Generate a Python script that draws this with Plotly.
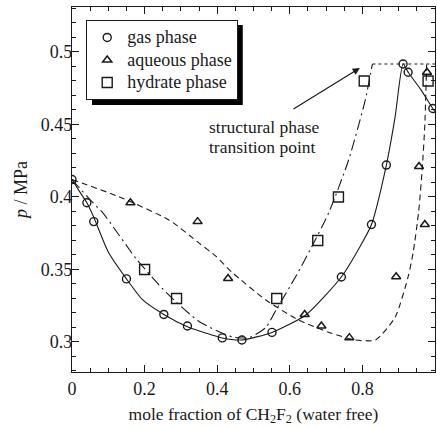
import plotly.graph_objects as go

# ---- data ----
gas_x = [0.0, 0.041, 0.06, 0.15, 0.253, 0.318, 0.414, 0.468, 0.551, 0.742, 0.825, 0.866, 0.912, 0.926, 0.994]
gas_y = [0.412, 0.396, 0.383, 0.3435, 0.319, 0.311, 0.3028, 0.3014, 0.3066, 0.3448, 0.381, 0.422, 0.4917, 0.486, 0.461]

aq_x = [0.161, 0.346, 0.43, 0.641, 0.687, 0.764, 0.893, 0.956, 0.972, 0.978]
aq_y = [0.396, 0.383, 0.3438, 0.319, 0.311, 0.303, 0.345, 0.421, 0.381, 0.486]

hyd_x = [0.2, 0.288, 0.564, 0.677, 0.734, 0.805, 0.981]
hyd_y = [0.35, 0.33, 0.33, 0.37, 0.4, 0.48, 0.48]

# fitted curves
gas_fit_x = [0.0, 0.02, 0.041, 0.06, 0.1, 0.15, 0.195, 0.253, 0.318, 0.351, 0.414, 0.468, 0.551, 0.644,
             0.742, 0.794, 0.825, 0.866, 0.89, 0.912, 0.926, 0.961, 0.994, 1.0]
gas_fit_y = [0.412, 0.404, 0.396, 0.386, 0.362, 0.3435, 0.329, 0.319, 0.3105, 0.3076, 0.3028, 0.3014, 0.3066, 0.3186,
             0.3448, 0.366, 0.381, 0.422, 0.455, 0.4917, 0.486, 0.474, 0.461, 0.459]

aq_fit_x = [0.0, 0.131, 0.268, 0.351, 0.397, 0.441, 0.534, 0.625, 0.715, 0.78, 0.836, 0.89, 0.926,
            0.94, 0.955, 0.965, 0.972, 0.977]
aq_fit_y = [0.412, 0.4, 0.384, 0.368, 0.359, 0.348, 0.329, 0.315, 0.306, 0.3014, 0.3014, 0.317, 0.345,
            0.362, 0.39, 0.42, 0.45, 0.4917]

hyd_fit_x = [0.0, 0.05, 0.085, 0.178, 0.26, 0.351, 0.441, 0.488, 0.534, 0.562, 0.616, 0.66, 0.707, 0.762, 0.808, 0.8275]
hyd_fit_y = [0.412, 0.398, 0.389, 0.357, 0.334, 0.314, 0.3035, 0.303, 0.31, 0.322, 0.345, 0.3655, 0.389, 0.4255, 0.467, 0.4917]

top_x = [0.8275, 1.0]
top_y = [0.4917, 0.4917]

x_ticks = [0, 0.2, 0.4, 0.6, 0.8, 1]
x_tick_text = ["0", "0.2", "0.4", "0.6", "0.8", "1"]
y_ticks = [0.3, 0.35, 0.4, 0.45, 0.5]
y_tick_text = ["0.3", "0.35", "0.4", "0.45", "0.5"]

series_names = ["gas phase", "aqueous phase", "hydrate phase"]

FONT = "Liberation Serif, Times New Roman, serif"
INK = "#1a1a1a"


def legend_label(s):
    return '<span style="font-size:18px">' + s + "</span>"


fig = go.Figure()

fig.add_trace(go.Scatter(x=gas_fit_x, y=gas_fit_y, mode="lines", line=dict(color=INK, width=1.1, shape="spline", smoothing=0.6),
                         showlegend=False, hoverinfo="skip"))
fig.add_trace(go.Scatter(x=aq_fit_x, y=aq_fit_y, mode="lines", line=dict(color=INK, width=1.1, dash="6px,4px", shape="spline", smoothing=0.6),
                         showlegend=False, hoverinfo="skip"))
fig.add_trace(go.Scatter(x=hyd_fit_x, y=hyd_fit_y, mode="lines", line=dict(color=INK, width=1.1, dash="11px,4px,2px,4px", shape="spline", smoothing=0.6),
                         showlegend=False, hoverinfo="skip"))
fig.add_trace(go.Scatter(x=top_x, y=top_y, mode="lines", line=dict(color=INK, width=1.1, dash="3px,3px"),
                         showlegend=False, hoverinfo="skip"))

fig.add_trace(go.Scatter(x=gas_x, y=gas_y, mode="markers", name=legend_label(series_names[0]),
                         marker=dict(symbol="circle-open", size=8, color=INK, line=dict(width=1.4))))
fig.add_trace(go.Scatter(x=aq_x, y=aq_y, mode="markers", name=legend_label(series_names[1]),
                         marker=dict(symbol="triangle-up-open", size=8, color=INK, line=dict(width=1.5))))
fig.add_trace(go.Scatter(x=hyd_x, y=hyd_y, mode="markers", name=legend_label(series_names[2]),
                         marker=dict(symbol="square-open", size=10, color=INK, line=dict(width=1.4))))

# arrow
fig.add_annotation(x=0.793, y=0.489, ax=0.606, ay=0.46, xref="x", yref="y", axref="x", ayref="y",
                   text="", showarrow=True, arrowhead=2, arrowsize=1.2, arrowwidth=1.2, arrowcolor=INK)
fig.add_annotation(x=0.372, y=0.4483, xref="x", yref="y", text="structural phase", showarrow=False,
                   xanchor="left", yanchor="middle", font=dict(family=FONT, size=17.5, color=INK))
fig.add_annotation(x=0.372, y=0.4345, xref="x", yref="y", text="transition point", showarrow=False,
                   xanchor="left", yanchor="middle", font=dict(family=FONT, size=17.5, color=INK))

# legend shadow
fig.add_shape(type="rect", xref="paper", yref="paper", x0=0.055, x1=0.4704, y0=0.7315, y1=0.9507,
              fillcolor="black", line=dict(width=0), layer="above")

axis_common = dict(showline=True, linecolor=INK, linewidth=1.4, mirror="ticks", ticks="inside",
                   ticklen=7, tickwidth=1.2, tickcolor=INK, showgrid=False, zeroline=False, automargin=False,
                   tickfont=dict(family=FONT, size=18, color=INK))

fig.update_xaxes(range=[0, 1], tickvals=x_ticks, ticktext=x_tick_text,
                 minor=dict(dtick=0.05, ticks="inside", ticklen=4, tickwidth=1.1, tickcolor=INK, showgrid=False),
                 title=dict(text="mole fraction of CH<sub>2</sub>F<sub>2</sub> (water free)",
                            font=dict(family=FONT, size=17.5, color=INK), standoff=9),
                 **axis_common)
fig.update_yaxes(range=[0.2793, 0.531], tickvals=y_ticks, ticktext=y_tick_text, ticklabelstandoff=-5,
                 minor=dict(dtick=0.01, tick0=0.3, ticks="inside", ticklen=4, tickwidth=1.1, tickcolor=INK, showgrid=False),
                 title=dict(text="<i>p</i> / MPa", font=dict(family=FONT, size=18, color=INK), standoff=8),
                 **axis_common)

fig.update_layout(width=437, height=428, margin=dict(l=72, r=2, t=7, b=56, autoexpand=False),
                  paper_bgcolor="white", plot_bgcolor="white",
                  font=dict(family=FONT, color=INK),
                  legend=dict(x=0.0386, y=0.9644, xanchor="left", yanchor="top", bgcolor="white",
                              bordercolor=INK, borderwidth=1.2, font=dict(family=FONT, size=15, color=INK)))

fig.write_html("out.html", config={"displayModeBar": False},
               post_script="document.body.style.margin='0';document.body.style.overflow='hidden';")
